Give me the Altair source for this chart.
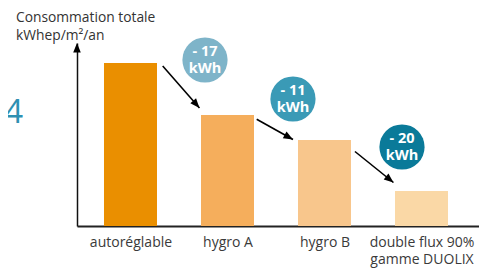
import math
import json
import altair as alt
import pandas as pd

# ---- data ----
categories = ["autoréglable", "hygro A", "hygro B", "double flux 90%|gamme DUOLIX"]
values = [163, 111, 86, 35]          # bar heights (arbitrary units)
bar_colors = ["#EA8F00", "#F5AE5C", "#F8C68C", "#FAD8A6"]
savings = [17, 11, 20]               # "- N kWh" bubbles
unit = "kWh"
bubble_colors = ["#7EB4C9", "#3A9AB6", "#0A7A99"]
y_title = "Consommation totale\nkWhep/m²/an"
side_text = "T4"

# ---- layout (annotation placement) ----
PX_X = 97.0                      # px per category step
X_MIN = -0.5515
W, H = 402, 183
Y_MAX = 183
bubble_x = [0.768, 1.675, 2.799]
bubble_y = [166, 127, 79]
arrow_start = [(0.332, 160), (1.301, 106.7), (2.314, 74.5)]
arrow_end = [(0.711, 118), (1.675, 86.5), (2.711, 43.5)]

font = "Open Sans"

bars_df = pd.DataFrame({"i": list(range(len(categories))), "cat": categories,
                        "val": values, "color": bar_colors})

label_expr = f"split({json.dumps(categories, ensure_ascii=False)}[datum.value], '|')"

xscale = alt.Scale(domain=[X_MIN, X_MIN + W / PX_X], nice=False, zero=False)
yscale = alt.Scale(domain=[0, Y_MAX], nice=False, zero=True)

bars = alt.Chart(bars_df).transform_calculate(
    lo="datum.i - 0.2732", hi="datum.i + 0.2732", base="0"
).mark_rect().encode(
    x=alt.X("lo:Q", scale=xscale, title=None, axis=alt.Axis(
        values=[0, 1, 2, 3], labelExpr=label_expr, title=None, ticks=False,
        grid=False, domain=True, domainColor="#222222", domainWidth=2,
        labelFont=font, labelFontSize=14, labelColor="#3a3a3a", labelPadding=9,
        labelLineHeight=17, labelOverlap=False, labelBound=False, labelFlush=False)),
    x2="hi:Q",
    y=alt.Y("val:Q", scale=yscale, title=None, axis=alt.Axis(
        title=None, ticks=False, labels=False, grid=False, domain=True,
        domainColor="#111111", domainWidth=1.5)),
    y2="base:Q",
    color=alt.Color("color:N", scale=None),
)

# arrows between bars
arr_rows = []
for (x1, y1), (x2, y2) in zip(arrow_start, arrow_end):
    ang = math.degrees(math.atan2(-(y2 - y1), (x2 - x1) * PX_X)) % 360
    arr_rows.append({"x1": x1, "y1": y1, "x2": x2, "y2": y2, "ang": ang})
# y axis arrow head
arr_rows_head = arr_rows + [{"x1": X_MIN, "y1": 0, "x2": X_MIN, "y2": Y_MAX, "ang": 270}]
arr_df = pd.DataFrame(arr_rows)
head_df = pd.DataFrame(arr_rows_head)

shafts = alt.Chart(arr_df).mark_rule(color="#000000", strokeWidth=1.6).encode(
    x=alt.X("x1:Q", scale=xscale, title=None), y=alt.Y("y1:Q", scale=yscale, title=None),
    x2="x2:Q", y2="y2:Q")

heads = alt.Chart(head_df).mark_point(
    shape="M0,0L-2,-0.8L-2,0.8Z", filled=True, color="#000000", opacity=1, size=90,
    strokeWidth=0).encode(
    x=alt.X("x2:Q", scale=xscale, title=None), y=alt.Y("y2:Q", scale=yscale, title=None),
    angle=alt.Angle("ang:Q", scale=None))

bub_df = pd.DataFrame({"x": bubble_x, "y": bubble_y,
                       "l1": [f"- {s}" for s in savings],
                       "l2": [unit] * len(savings),
                       "col": bubble_colors})
bubbles = alt.Chart(bub_df).mark_circle(size=math.pi * 25.5 ** 2, opacity=1).encode(
    x=alt.X("x:Q", scale=xscale, title=None), y=alt.Y("y:Q", scale=yscale, title=None),
    color=alt.Color("col:N", scale=None))
bub_t1 = alt.Chart(bub_df).mark_text(
    font=font, fontSize=14.5, fontWeight="bold", color="white",
    baseline="alphabetic", align="center", dy=-4).encode(
    x=alt.X("x:Q", scale=xscale, title=None), y=alt.Y("y:Q", scale=yscale, title=None),
    text="l1:N")
bub_t2 = alt.Chart(bub_df).mark_text(
    font=font, fontSize=14.5, fontWeight="bold", color="white",
    baseline="alphabetic", align="center", dy=13).encode(
    x=alt.X("x:Q", scale=xscale, title=None), y=alt.Y("y:Q", scale=yscale, title=None),
    text="l2:N")

title_txt = alt.Chart(pd.DataFrame({"t": [y_title]})).mark_text(
    font=font, fontSize=13.8, color="#333333", align="left", baseline="alphabetic",
    lineBreak="\n", lineHeight=18).encode(
    x=alt.value(-61), y=alt.value(-21), text="t:N")

side_txt = alt.Chart(pd.DataFrame({"t": [side_text]})).mark_text(
    font=font, fontSize=33, color="#2E90B2", align="right", baseline="alphabetic").encode(
    x=alt.value(-54), y=alt.value(80), text="t:N")

chart = alt.layer(bars, shafts, heads, bubbles, bub_t1, bub_t2, title_txt, side_txt).properties(
    width=W, height=H, autosize="none",
    padding={"left": 69, "top": 35, "right": 0, "bottom": 42},
).configure(background="white").configure_view(stroke=None)

chart.save("out.html", embed_options={"renderer": "svg", "actions": False})
